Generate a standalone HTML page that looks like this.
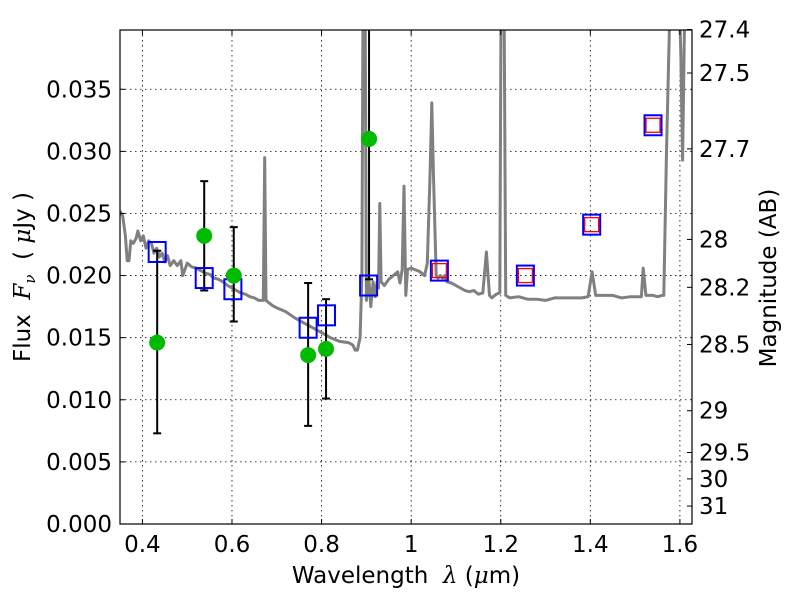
<!DOCTYPE html>
<html><head><meta charset="utf-8"><style>
body{margin:0;background:#fff;width:800px;height:600px;overflow:hidden}
svg text{font-family:"DejaVu Sans","Liberation Sans",sans-serif;fill:#000}
</style></head><body>
<svg id="chart" width="800" height="600" viewBox="0 0 800 600" xmlns="http://www.w3.org/2000/svg">
<defs><clipPath id="clip"><rect x="120" y="30" width="572" height="494"/></clipPath></defs>
<rect x="0" y="0" width="800" height="600" fill="#fff"/>
<g id="grid"></g>
<g id="spec" clip-path="url(#clip)"></g>
<g id="marks" clip-path="url(#clip)"></g>
<rect x="120" y="30" width="572" height="494" fill="none" stroke="#000" stroke-width="1.2"/>
<g id="axes"></g>
<text x="406" y="583" text-anchor="middle" font-size="23" xml:space="preserve">Wavelength  <tspan font-style="italic" font-family="DejaVu Serif, serif">λ</tspan> (<tspan font-style="italic" font-family="DejaVu Serif, serif">μ</tspan>m)</text>
<text transform="translate(30,277) rotate(-90)" text-anchor="middle" font-size="23" xml:space="preserve">Flux  <tspan font-style="italic" font-family="DejaVu Serif, serif">F</tspan><tspan font-style="italic" font-family="DejaVu Serif, serif" font-size="15" dy="5">ν</tspan><tspan dy="-5">  ( </tspan><tspan font-style="italic" font-family="DejaVu Serif, serif">μ</tspan>Jy )</text>
<text transform="translate(776,278) rotate(-90)" text-anchor="middle" font-size="23">Magnitude (AB)</text>
</svg>
<script>
const specLam=[0.35,0.356,0.362,0.366,0.370,0.374,0.380,0.386,0.390,0.396,0.402,0.408,0.414,0.420,0.426,0.432,0.438,0.444,0.450,0.456,0.462,0.470,0.478,0.486,0.490,0.50,0.51,0.52,0.53,0.54,0.55,0.56,0.57,0.58,0.59,0.60,0.61,0.62,0.63,0.64,0.65,0.66,0.670,0.673,0.676,0.69,0.70,0.72,0.74,0.76,0.78,0.80,0.82,0.84,0.86,0.87,0.875,0.880,0.886,0.890,0.893,0.897,0.900,0.905,0.910,0.915,0.920,0.924,0.927,0.930,0.933,0.94,0.95,0.96,0.97,0.975,0.980,0.984,0.988,0.992,1.00,1.02,1.03,1.036,1.042,1.046,1.050,1.056,1.06,1.065,1.07,1.075,1.08,1.09,1.10,1.11,1.12,1.13,1.14,1.15,1.16,1.168,1.175,1.18,1.19,1.198,1.201,1.207,1.211,1.22,1.24,1.26,1.28,1.30,1.32,1.34,1.36,1.38,1.395,1.404,1.412,1.43,1.45,1.47,1.49,1.51,1.514,1.518,1.524,1.54,1.55,1.56,1.564,1.570,1.580,1.596,1.602,1.606,1.612,1.627];
const specFlux=[0.0252,0.0248,0.0232,0.0212,0.0212,0.0228,0.0226,0.0230,0.0236,0.0228,0.0232,0.0222,0.0228,0.0226,0.0218,0.0222,0.0215,0.0218,0.0211,0.0216,0.0208,0.0212,0.0208,0.0212,0.0200,0.0210,0.0207,0.0206,0.0204,0.0202,0.0201,0.0198,0.0197,0.0195,0.0192,0.0190,0.0188,0.0186,0.0185,0.0183,0.0182,0.0180,0.0180,0.0295,0.0180,0.0176,0.0174,0.0171,0.0166,0.0162,0.0158,0.0154,0.0150,0.0147,0.0146,0.0144,0.0140,0.0140,0.0150,0.0200,0.045,0.045,0.0180,0.0200,0.0175,0.0195,0.0183,0.0195,0.0190,0.0258,0.0195,0.0192,0.0197,0.0200,0.0203,0.0194,0.0205,0.0272,0.0184,0.0205,0.0206,0.0203,0.0200,0.0210,0.0280,0.0339,0.0280,0.0200,0.0198,0.0200,0.0198,0.0200,0.0195,0.0194,0.0192,0.0190,0.0188,0.0187,0.0188,0.0185,0.0186,0.0219,0.0184,0.0182,0.0185,0.0186,0.045,0.045,0.0184,0.0182,0.0183,0.0181,0.0181,0.0180,0.0182,0.0182,0.0182,0.0182,0.0183,0.0203,0.0184,0.0184,0.0184,0.0182,0.0183,0.0183,0.0183,0.0206,0.0184,0.0184,0.0183,0.0184,0.0184,0.0300,0.045,0.045,0.038,0.0293,0.045,0.045];
const obsLam=[0.433,0.538,0.604,0.770,0.810,0.906];
const obsFlux=[0.0146,0.0232,0.0200,0.0136,0.0141,0.0310];
const errLow=[0.0073,0.0188,0.0163,0.0079,0.0101,0.0197];
const errHigh=[0.0220,0.0276,0.0239,0.0194,0.0181,0.0450];
const modelLam=[0.433,0.538,0.602,0.770,0.811,0.905,1.063,1.255,1.403,1.540];
const modelFlux=[0.0219,0.0198,0.0189,0.0158,0.0168,0.0192,0.0204,0.0200,0.0241,0.0321];
const redLam=[1.063,1.255,1.403,1.540];
const redFlux=[0.0204,0.0200,0.0241,0.0321];
const xTicks=[0.4,0.6,0.8,1.0,1.2,1.4,1.6];
const xTickLabels=["0.4","0.6","0.8","1","1.2","1.4","1.6"];
const yTicks=[0,0.005,0.010,0.015,0.020,0.025,0.030,0.035];
const yTickLabels=["0.000","0.005","0.010","0.015","0.020","0.025","0.030","0.035"];
const magTicks=[27.4,27.5,27.7,28,28.2,28.5,29,29.5,30,31];
const magTickLabels=["27.4","27.5","27.7","28","28.2","28.5","29","29.5","30","31"];

const X0=120,X1=692,Y0=524,Y1=30,XMIN=0.35,XMAX=1.627,YMAX=0.03977;
const sx=v=>X0+(v-XMIN)/(XMAX-XMIN)*(X1-X0);
const sy=v=>Y0-v/YMAX*(Y0-Y1);
const magToFlux=m=>Math.pow(10,(23.9-m)/2.5);
const NS='http://www.w3.org/2000/svg';
function mk(tag,attrs,parent){const e=document.createElementNS(NS,tag);for(const k in attrs)e.setAttribute(k,attrs[k]);parent.appendChild(e);return e;}
const grid=document.getElementById('grid'),axes=document.getElementById('axes'),spec=document.getElementById('spec'),marks=document.getElementById('marks');

xTicks.forEach((t,i)=>{
  const x=sx(t);
  const g=mk('line',{x1:x,x2:x,y1:Y1,y2:Y0,stroke:'#000','stroke-width':0.8,'stroke-dasharray':'1.5,3.5'},grid);
  
  
  mk('line',{x1:x,x2:x,y1:Y0,y2:Y0-5,stroke:'#000','stroke-width':1},axes);
  mk('line',{x1:x,x2:x,y1:Y1,y2:Y1+5,stroke:'#000','stroke-width':1},axes);
  const tx=mk('text',{x:x,y:Y0+28,'text-anchor':'middle','font-size':23},axes);
  tx.textContent=xTickLabels[i];
  
  
});
yTicks.forEach((t,i)=>{
  const y=sy(t);
  const g=mk('line',{x1:X0,x2:X1,y1:y,y2:y,stroke:'#000','stroke-width':0.8,'stroke-dasharray':'1.5,3.5'},grid);
  
  
  mk('line',{x1:X0,x2:X0+5,y1:y,y2:y,stroke:'#000','stroke-width':1},axes);
  const tx=mk('text',{x:X0-8,y:y+8,'text-anchor':'end','font-size':23},axes);
  tx.textContent=yTickLabels[i];
  
  
});
magTicks.forEach((m,i)=>{
  const y=sy(magToFlux(m));
  mk('line',{x1:X1,x2:X1-5,y1:y,y2:y,stroke:'#000','stroke-width':1},axes);
  const tx=mk('text',{x:X1+7,y:y+8,'text-anchor':'start','font-size':23},axes);
  tx.textContent=magTickLabels[i];
  
  
});

const pts=specLam.map((l,i)=>sx(l).toFixed(1)+','+sy(specFlux[i]).toFixed(1)).join(' ');
const pl=mk('polyline',{points:pts,fill:'none',stroke:'#808080','stroke-width':3,'stroke-linejoin':'round'},spec);



obsLam.forEach((l,i)=>{
  const x=sx(l);
  const e=mk('g',{},marks);
  
  
  mk('line',{x1:x,x2:x,y1:sy(errLow[i]),y2:sy(errHigh[i]),stroke:'#000','stroke-width':2},e);
  mk('line',{x1:x-4,x2:x+4,y1:sy(errLow[i]),y2:sy(errLow[i]),stroke:'#000','stroke-width':2},e);
  mk('line',{x1:x-4,x2:x+4,y1:sy(errHigh[i]),y2:sy(errHigh[i]),stroke:'#000','stroke-width':2},e);
});
modelLam.forEach((l,i)=>{
  const r=mk('rect',{x:sx(l)-8.5,y:sy(modelFlux[i])-10,width:17,height:20,fill:'none',stroke:'#0000ff','stroke-width':2},marks);
  
  
});
redLam.forEach((l,i)=>{
  const r=mk('rect',{x:sx(l)-7,y:sy(redFlux[i])-7,width:14,height:14,fill:'none',stroke:'#ff0000','stroke-width':1.3},marks);
  
  
});
obsLam.forEach((l,i)=>{
  const c=mk('circle',{cx:sx(l),cy:sy(obsFlux[i]),r:8,fill:'#00bb00'},marks);
  
  
});
</script>
</body></html>
